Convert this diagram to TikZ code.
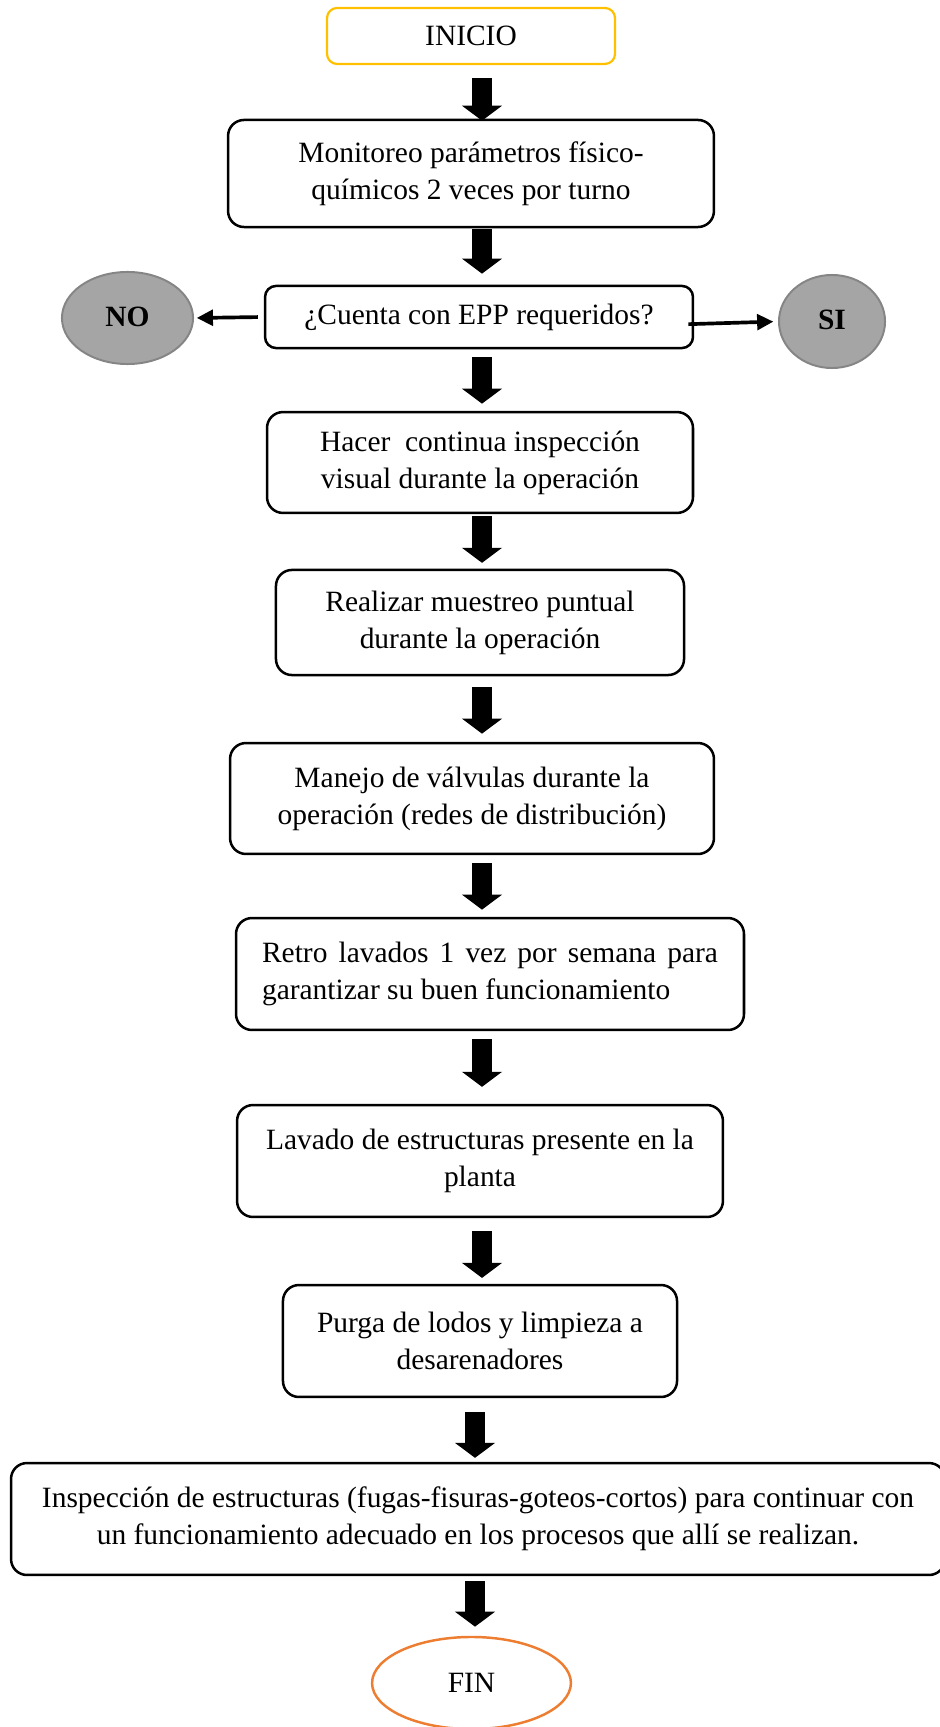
\documentclass[tikz,border=0pt]{standalone}
\usepackage{fontspec}
\setmainfont{Liberation Serif}
\usetikzlibrary{shapes.geometric,arrows.meta}

\definecolor{startgold}{HTML}{FFC000}
\definecolor{endorange}{HTML}{ED7D31}
\definecolor{answerfill}{HTML}{A5A5A5}
\definecolor{answerline}{HTML}{858585}

\begin{document}
% one drawing unit = 0.4073pt, y grows downwards
\begin{tikzpicture}[x=0.4073pt,y=-0.4073pt,
  font=\fontsize{12}{15}\selectfont,
  stepbox/.style={draw=black, line width=1.02pt, rounded corners=6.5pt,
    align=center, inner sep=0pt},
  startbox/.style={draw=startgold, line width=0.9pt, rounded corners=4.1pt,
    align=center, inner sep=0pt},
  answer/.style={ellipse, draw=answerline, fill=answerfill, line width=0.8pt,
    inner sep=0pt, font=\fontsize{12}{15}\selectfont\bfseries},
  endnode/.style={ellipse, draw=endorange, line width=1pt, inner sep=0pt},
  flow/.style={line width=8.15pt,
    -{Triangle[width=16.3pt,length=6.1pt,line width=0pt]}},
  side/.style={line width=1.5pt,
    -{Triangle[width=6.8pt,length=6.5pt,line width=0pt]}}]

\useasboundingbox (0,0) rectangle (939,1727);

% main column
\node[startbox, minimum width=117.3pt, minimum height=22.8pt] (ini) at (471,36) {\raisebox{-1.2pt}{INICIO}};

\node[stepbox, minimum width=197.9pt, minimum height=43.6pt] (b2) at (471,173.5)
  {Monitoreo parámetros físico-\\químicos 2 veces por turno};

\node[stepbox, rounded corners=4.5pt, minimum width=174.3pt, minimum height=25.3pt] (dec) at (479,317)
  {¿Cuenta con EPP requeridos?};

\node[stepbox, minimum width=173.5pt, minimum height=41.1pt] (b4) at (480,462.5)
  {Hacer\ \ continua inspección\\visual durante la operación};

\node[stepbox, minimum width=166.2pt, minimum height=42.8pt] (b5) at (480,622.5)
  {Realizar muestreo puntual\\durante la operación};

\node[stepbox, minimum width=197.1pt, minimum height=45.2pt] (b6) at (472,798.5)
  {Manejo de válvulas durante la\\operación (redes de distribución)};

\node[stepbox, align=left, minimum width=206.9pt, minimum height=45.6pt] (b7) at (490,974)
  {\makebox[185.7pt][s]{Retro lavados 1 vez por semana para}\\garantizar su buen funcionamiento};

\node[stepbox, minimum width=197.9pt, minimum height=45.6pt] (b8) at (480,1161)
  {Lavado de estructuras presente en la\\planta};

\node[stepbox, minimum width=160.5pt, minimum height=45.6pt] (b9) at (480,1341)
  {Purga de lodos y limpieza a\\desarenadores};

\node[stepbox, minimum width=380.4pt, minimum height=45.6pt] (b10) at (478,1519)
  {Inspección de estructuras (fugas-fisuras-goteos-cortos) para continuar con\\un funcionamiento adecuado en los procesos que allí se realizan.};

\node[endnode, minimum width=81pt, minimum height=37.5pt] (fin) at (471.5,1683) {FIN};

% answers to the question
\node[answer, minimum width=53.4pt, minimum height=37.5pt] (no) at (127.5,318) {\raisebox{1.2pt}{NO}};
\node[answer, minimum width=43.2pt, minimum height=37.9pt] (si) at (832,321.5) {\raisebox{1.2pt}{SI}};

% arrow axes
\coordinate (ax) at (482,0);
\coordinate (axb) at (475,0);

% block arrows between the steps
\draw[flow, shorten <=5.3pt, shorten >=-0.8pt] (ini.south -| ax) -- (b2.north -| ax);
\draw[flow, shorten <=0.4pt, shorten >=4.5pt] (b2.south -| ax) -- (dec.north -| ax);
\draw[flow, shorten <=3.3pt, shorten >=2.9pt] (dec.south -| ax) -- (b4.north -| ax);
\draw[flow, shorten <=0.8pt, shorten >=2.4pt] (b4.south -| ax) -- (b5.north -| ax);
\draw[flow, shorten <=4.5pt, shorten >=3.3pt] (b5.south -| ax) -- (b6.north -| ax);
\draw[flow, shorten <=3.3pt, shorten >=2.9pt] (b6.south -| ax) -- (b7.north -| ax);
\draw[flow, shorten <=3.3pt, shorten >=6.9pt] (b7.south -| ax) -- (b8.north -| ax);
\draw[flow, shorten <=5.3pt, shorten >=2.4pt] (b8.south -| ax) -- (b9.north -| ax);
\draw[flow, shorten <=5.7pt, shorten >=1.6pt] (b9.south -| axb) -- (b10.north -| axb);
\draw[flow, shorten <=2.0pt, shorten >=3.7pt] (b10.south -| axb) -- (fin.north -| axb);

% side arrows from the question
\draw[side, shorten <=2.4pt, shorten >=1.2pt] (dec.west) -- (no.east);
\draw[side, shorten <=-2.4pt, shorten >=2pt] ([yshift=-2.85pt]dec.east) -- (si.west);

\end{tikzpicture}
\end{document}
